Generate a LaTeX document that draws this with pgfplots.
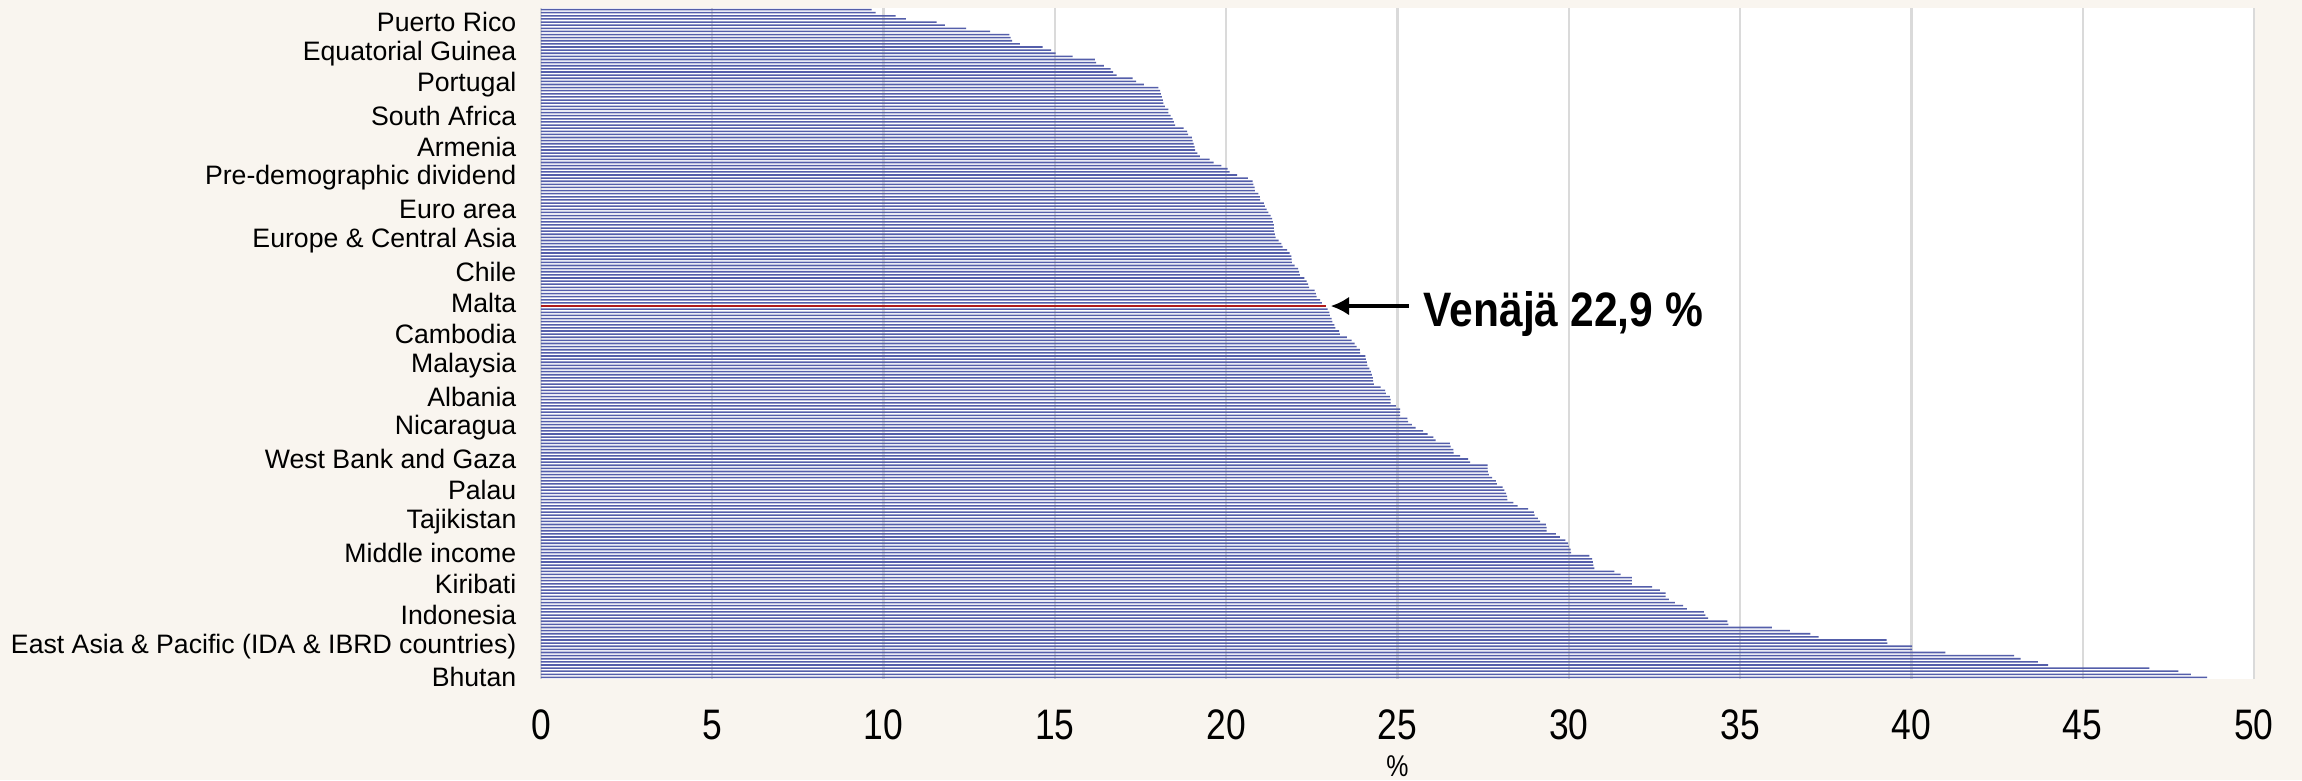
\documentclass[border=0pt]{standalone}
\usepackage{pgfplots}
\pgfplotsset{compat=1.18}
\usepackage{pgfplotstable}
\usepackage{fontspec}
\setmainfont{Liberation Sans}
\newfontfamily\narrowfont[FakeStretch=0.83]{Liberation Sans}
\newfontfamily\calloutfont[FakeStretch=0.88]{Liberation Sans}
\usetikzlibrary{arrows.meta}

\definecolor{bgcream}{RGB}{249,245,239}
\definecolor{barblue}{RGB}{84,94,170}
\definecolor{gridgray}{RGB}{218,218,218}
\definecolor{rusred}{RGB}{175,25,25}

% y = category position (1 = bottom), x = share in %
\pgfplotstableread{
y x
215 9.65
214 9.77
213 10.35
212 10.65
211 11.55
210 11.79
209 12.41
208 13.11
207 13.67
206 13.71
205 13.75
204 13.98
203 14.64
202 14.89
201 15.02
200 15.52
199 16.17
198 16.20
197 16.43
196 16.63
195 16.70
194 16.80
193 17.27
192 17.37
191 17.60
190 18.02
189 18.07
188 18.09
187 18.12
186 18.15
185 18.17
184 18.21
183 18.31
182 18.31
181 18.38
180 18.44
179 18.47
178 18.51
177 18.76
176 18.86
175 18.89
174 19.00
173 19.02
172 19.05
171 19.08
170 19.09
169 19.16
168 19.23
167 19.52
166 19.63
165 19.86
164 20.04
163 20.10
162 20.32
161 20.63
160 20.77
159 20.79
158 20.83
157 20.84
156 20.94
155 20.98
154 20.99
153 21.10
152 21.13
151 21.18
150 21.23
149 21.30
148 21.34
147 21.36
146 21.39
145 21.39
144 21.40
143 21.42
142 21.44
141 21.53
140 21.61
139 21.65
138 21.78
137 21.85
136 21.90
135 21.91
134 21.92
133 22.00
132 22.10
131 22.13
130 22.15
129 22.28
128 22.35
127 22.39
126 22.42
125 22.58
124 22.62
123 22.64
122 22.74
121 22.79
120 22.90
119 22.96
118 23.01
117 23.03
116 23.08
115 23.10
114 23.16
113 23.19
112 23.30
111 23.32
110 23.52
109 23.66
108 23.75
107 23.81
106 23.90
105 23.91
104 24.06
103 24.08
102 24.11
101 24.12
100 24.18
99 24.22
98 24.25
97 24.28
96 24.29
95 24.31
94 24.51
93 24.64
92 24.66
91 24.78
90 24.80
89 24.80
88 24.95
87 25.08
86 25.08
85 25.08
84 25.29
83 25.31
82 25.42
81 25.53
80 25.75
79 25.88
78 26.05
77 26.11
76 26.53
75 26.55
74 26.63
73 26.64
72 26.83
71 27.06
70 27.12
69 27.63
68 27.63
67 27.64
66 27.67
65 27.76
64 27.87
63 27.90
62 28.07
61 28.12
60 28.17
59 28.20
58 28.21
57 28.38
56 28.51
55 28.81
54 28.98
53 29.00
52 29.10
51 29.16
50 29.33
49 29.35
48 29.35
47 29.62
46 29.74
45 29.90
44 29.98
43 30.00
42 30.05
41 30.07
40 30.60
39 30.68
38 30.70
37 30.72
36 30.75
35 31.33
34 31.51
33 31.84
32 31.84
31 31.84
30 32.43
29 32.66
28 32.83
27 32.83
26 32.92
25 33.10
24 33.34
23 33.45
22 33.94
21 33.99
20 34.07
19 34.63
18 34.66
17 35.93
16 36.45
15 37.05
14 37.29
13 39.28
12 39.30
11 40.02
10 40.02
9 40.99
8 43.00
7 43.19
6 43.69
5 43.99
4 46.95
3 47.79
2 48.16
1 48.63
}\shares

\begin{document}
\begin{tikzpicture}
\path[use as bounding box, fill=bgcream] (-162.3pt,-30.3pt) rectangle (528.3pt,203.7pt);
\begin{axis}[
  at={(0,0)}, anchor=south west,
  scale only axis, width=513.9pt, height=201.3pt,
  xbar, bar shift=0pt, bar width=0.5,
  xmin=0, xmax=50, ymin=0.5, ymax=215.5,
  axis background/.style={fill=white},
  axis x line*=bottom, axis y line*=left,
  axis line style={draw=none},
  xtick={0,5,...,50}, xmajorgrids,
  major grid style={gridgray, line width=0.7pt},
  major tick length=0pt,
  /pgf/number format/assume math mode=true,
  xticklabel style={font=\narrowfont\fontsize{12.8}{14}\selectfont, anchor=north, inner sep=0pt, yshift=-9pt},
  ytick={1,11,...,211},
  yticklabels={Bhutan, East Asia \& Pacific (IDA \& IBRD countries), Indonesia, Kiribati, Middle income, Tajikistan, Palau, West Bank and Gaza, Nicaragua, Albania, Malaysia, Cambodia, Malta, Chile, Europe \& Central Asia, Euro area, Pre-demographic dividend, Armenia, South Africa, Portugal, Equatorial Guinea, Puerto Rico},
  yticklabel style={font=\fontsize{8}{9}\selectfont, anchor=east, inner sep=0pt, xshift=-7.2pt},
  xlabel={\%},
  every axis x label/.style={at={(axis description cs:0.5,0)}, anchor=center, yshift=-26pt, font=\narrowfont\fontsize{9}{10}\selectfont},
]
\addplot[draw=none, fill=barblue, bar shift=0pt] table[x=x, y=y] {\shares};
\addplot[draw=none, fill=rusred, bar shift=0pt, bar width=0.4] coordinates {(22.90,120)};
\draw[line width=1pt, -{Latex[length=5.5pt,width=5.6pt]}] (axis cs:25.33,120) -- (axis cs:23.05,120);
\node[anchor=west, inner sep=0pt, font=\calloutfont\bfseries\fontsize{14.5}{16}\selectfont] at (axis cs:25.75,117.6) {Venäjä 22,9 \%};
\end{axis}
\end{tikzpicture}
\end{document}
